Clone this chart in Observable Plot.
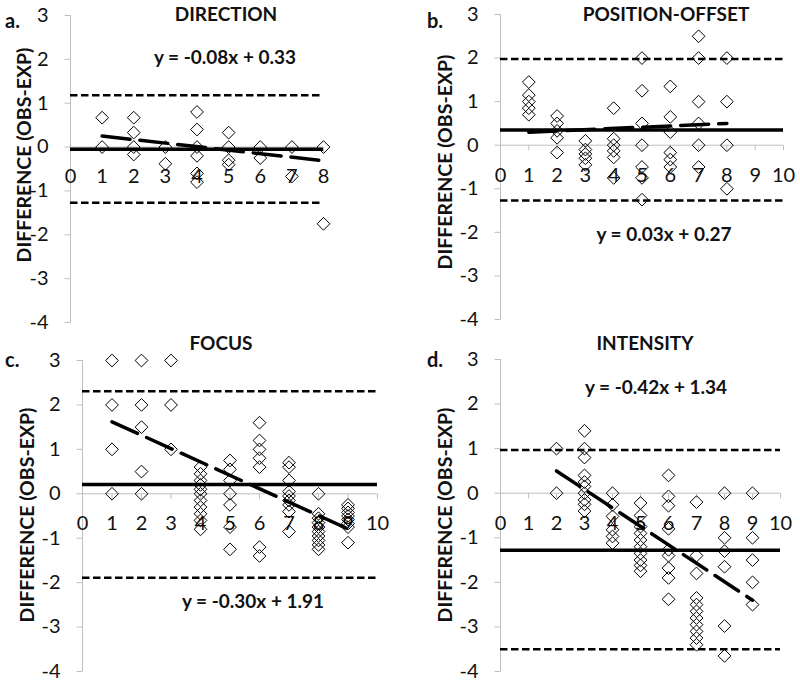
<!DOCTYPE html>
<html><head><meta charset="utf-8">
<script src="https://cdn.jsdelivr.net/npm/d3@7"></script>
<script src="https://cdn.jsdelivr.net/npm/@observablehq/plot@0.6"></script>
<style>
body{margin:0;background:#fff;}
#root{position:relative;width:800px;height:684px;font-family:Lato,"Open Sans",sans-serif;overflow:hidden;}
#root svg{position:absolute;}
</style></head><body><div id="root"></div>
<script>
// ---- data ----
const panelLetters = ["a.", "b.", "c.", "d."];
const panelTitles = ["DIRECTION", "POSITION-OFFSET", "FOCUS", "INTENSITY"];
const trendEquations = ["y = -0.08x + 0.33", "y = 0.03x + 0.27", "y = -0.30x + 1.91", "y = -0.42x + 1.34"];
const yAxisLabel = "DIFFERENCE (OBS-EXP)";
const yTicks = [-4, -3, -2, -1, 0, 1, 2, 3];
const xTicksShort = [0, 1, 2, 3, 4, 5, 6, 7, 8];
const xTicksLong = [0, 1, 2, 3, 4, 5, 6, 7, 8, 9, 10];
const meanDiff = [-0.05, 0.35, 0.21, -1.28];
const upperLimit = [1.18, 1.98, 2.31, 0.97];
const lowerLimit = [-1.27, -1.27, -1.89, -3.5];
const trendStart = [[1, 0.25], [1, 0.30], [1, 1.62], [2, 0.5]];
const trendEnd = [[8, -0.31], [8, 0.5], [9, -0.79], [9, -2.4]];

const directionPoints = [
  [1, 0.67], [1, 0],
  [2, 0.67], [2, 0.33], [2, 0], [2, -0.17],
  [3, 0], [3, -0.38],
  [4, 0.8], [4, 0.4], [4, 0], [4, -0.2], [4, -0.6], [4, -0.8],
  [5, 0.33], [5, 0], [5, -0.3], [5, -0.4],
  [6, 0], [6, -0.25],
  [7, 0], [7, -0.67],
  [8, 0], [8, -1.75]
];
const positionPoints = [
  [1, 1.45], [1, 1.15], [1, 1.0], [1, 0.85], [1, 0.7],
  [2, 0.67], [2, 0.5], [2, 0.33], [2, 0.17], [2, -0.17],
  [3, 0.1], [3, -0.1], [3, -0.2], [3, -0.3], [3, -0.45],
  [4, 0.85], [4, 0.15], [4, 0], [4, -0.13], [4, -0.28], [4, -0.75],
  [5, 2.0], [5, 1.25], [5, 0.5], [5, 0], [5, -0.5], [5, -0.75], [5, -1.25],
  [6, 1.35], [6, 0.65], [6, 0.3], [6, -0.17], [6, -0.33], [6, -0.5],
  [7, 2.5], [7, 2.0], [7, 1.0], [7, 0.5], [7, 0], [7, -0.5],
  [8, 2.0], [8, 1.0], [8, 0], [8, -1.0]
];
const focusPoints = [
  [1, 3], [1, 2], [1, 1], [1, 0],
  [2, 3], [2, 2], [2, 1.5], [2, 0.5], [2, 0],
  [3, 3], [3, 2], [3, 1],
  [4, 0.6], [4, 0.45], [4, 0.3], [4, 0.2], [4, 0.1], [4, 0], [4, -0.15], [4, -0.3], [4, -0.45], [4, -0.6], [4, -0.8],
  [5, 0.75], [5, 0.55], [5, 0.3], [5, 0], [5, -0.25], [5, -0.75], [5, -1.25],
  [6, 1.6], [6, 1.2], [6, 1.0], [6, 0.8], [6, 0.6], [6, -1.2], [6, -1.4],
  [7, 0.7], [7, 0.6], [7, 0.3], [7, 0.05], [7, -0.05], [7, -0.15], [7, -0.25], [7, -0.4], [7, -0.85],
  [8, 0], [8, -0.45], [8, -0.55], [8, -0.65], [8, -0.75], [8, -0.85], [8, -0.95], [8, -1.05], [8, -1.15], [8, -1.25],
  [9, -0.25], [9, -0.33], [9, -0.42], [9, -0.5], [9, -0.58], [9, -0.67], [9, -0.75], [9, -1.1]
];
const intensityPoints = [
  [2, 1.0], [2, 0],
  [3, 1.4], [3, 1.0], [3, 0.8], [3, 0.4], [3, 0.25], [3, 0.15], [3, 0], [3, -0.15], [3, -0.25], [3, -0.4],
  [4, 0], [4, -0.26], [4, -0.52], [4, -0.82], [4, -0.97], [4, -1.12],
  [5, -0.22], [5, -0.5], [5, -0.75], [5, -0.9], [5, -1.05], [5, -1.2], [5, -1.35], [5, -1.5], [5, -1.62], [5, -1.75],
  [6, 0.4], [6, -0.07], [6, -0.28], [6, -0.8], [6, -1.27], [6, -1.4], [6, -1.68], [6, -1.9], [6, -2.38],
  [7, -0.2], [7, -1.4], [7, -1.8], [7, -2.35], [7, -2.5], [7, -2.65], [7, -2.8], [7, -2.95], [7, -3.1], [7, -3.25], [7, -3.4],
  [8, 0], [8, -1.0], [8, -1.3], [8, -1.65], [8, -2.98], [8, -3.65],
  [9, 0], [9, -1.0], [9, -1.5], [9, -2.0], [9, -2.5]
];

// ---- layout ----
const panelPoints = [directionPoints, positionPoints, focusPoints, intensityPoints];
const panelXTicks = [xTicksShort, xTicksLong, xTicksLong, xTicksLong];
const frames = [
  {left: 0,   top: 0,   mL: 70,  mR: 77, mT: 15, mB: 20},
  {left: 400, top: 0,   mL: 100, mR: 17, mT: 14, mB: 23},
  {left: 0,   top: 342, mL: 82,  mR: 23, mT: 18, mB: 13},
  {left: 400, top: 342, mL: 100, mR: 20, mT: 17, mB: 13}
];
const textPos = [
  {letter: [5, 28],   title: [226, 21],  eq: [225, 64],  ylab: [31, 155]},
  {letter: [427, 28], title: [666, 21],  eq: [664, 241], ylab: [452, 162]},
  {letter: [5, 367],  title: [221, 350], eq: [253, 608], ylab: [34, 515]},
  {letter: [427, 367],title: [645, 350], eq: [656, 394], ylab: [452, 515]}
];

const diamond = {draw(ctx, size) {
  const r = Math.sqrt(size / Math.PI) * 1.12;
  ctx.moveTo(0, -r); ctx.lineTo(r, 0); ctx.lineTo(0, r); ctx.lineTo(-r, 0); ctx.closePath();
}};
const tickDown = {draw(ctx) { ctx.moveTo(0, 0); ctx.lineTo(0, 5); }};
const tickLeft = {draw(ctx) { ctx.moveTo(0, 0); ctx.lineTo(-6, 0); }};
const axisGray = "#bfbfbf";
const ink = "#111";

const root = document.getElementById("root");
panelPoints.forEach((pts, i) => {
  const f = frames[i];
  const xt = panelXTicks[i];
  const chart = Plot.plot({
    width: 400, height: 342,
    marginLeft: f.mL, marginRight: f.mR, marginTop: f.mT, marginBottom: f.mB,
    x: {domain: [0, xt[xt.length - 1]], axis: null},
    y: {domain: [-4, 3], axis: null},
    style: {fontFamily: "Lato, 'Open Sans', sans-serif", fontSize: "20px", color: ink, background: "transparent", overflow: "visible"},
    marks: [
      Plot.ruleX([0], {stroke: axisGray, strokeWidth: 1}),
      Plot.ruleY([0], {stroke: axisGray, strokeWidth: 1}),
      Plot.dot(xt, {x: d => d, y: () => 0, symbol: tickDown, stroke: axisGray, fill: "none", strokeWidth: 1}),
      Plot.dot(yTicks, {x: () => 0, y: d => d, symbol: tickLeft, stroke: axisGray, fill: "none", strokeWidth: 1}),
      Plot.text(yTicks, {x: () => 0, y: d => d, text: d => String(d), textAnchor: "end", dx: -22, fill: ink}),
      Plot.text(xt, {x: d => d, y: () => 0, text: d => String(d), dy: 30, fill: ink}),
      Plot.ruleY([upperLimit[i]], {stroke: "black", strokeWidth: 2.5, strokeDasharray: "7.5,3.5"}),
      Plot.ruleY([lowerLimit[i]], {stroke: "black", strokeWidth: 2.5, strokeDasharray: "7.5,3.5"}),
      Plot.ruleY([meanDiff[i]], {stroke: "black", strokeWidth: 3.5}),
      Plot.line([trendStart[i], trendEnd[i]], {x: d => d[0], y: d => d[1], stroke: "black", strokeWidth: 3.5, strokeDasharray: "28,10"}),
      Plot.dot(pts, {x: d => d[0], y: d => d[1], symbol: diamond, r: 5.7, stroke: "black", fill: "none", strokeWidth: 1})
    ]
  });
  chart.style.left = f.left + "px";
  chart.style.top = f.top + "px";
  root.appendChild(chart);
});

// overlay text
const ns = "http://www.w3.org/2000/svg";
const ov = document.createElementNS(ns, "svg");
ov.setAttribute("width", 800); ov.setAttribute("height", 684);
ov.style.left = "0px"; ov.style.top = "0px";
ov.setAttribute("font-family", "Lato, 'Open Sans', sans-serif");
ov.setAttribute("font-weight", "bold");
ov.setAttribute("fill", ink);
function addText(str, x, y, opts = {}) {
  const t = document.createElementNS(ns, "text");
  t.textContent = str;
  t.setAttribute("x", x); t.setAttribute("y", y);
  t.setAttribute("font-size", opts.size || 19);
  t.setAttribute("text-anchor", opts.anchor || "middle");
  if (opts.transform) { t.setAttribute("x", 0); t.setAttribute("y", 0); t.setAttribute("transform", opts.transform); }
  ov.appendChild(t);
}
textPos.forEach((p, i) => {
  addText(panelLetters[i], p.letter[0], p.letter[1], {anchor: "start", size: 20});
  addText(panelTitles[i], p.title[0], p.title[1]);
  addText(trendEquations[i], p.eq[0], p.eq[1]);
  addText(yAxisLabel, 0, 0, {size: 19.5, transform: `translate(${p.ylab[0]},${p.ylab[1]}) rotate(-90)`});
});
root.appendChild(ov);
</script></body></html>
